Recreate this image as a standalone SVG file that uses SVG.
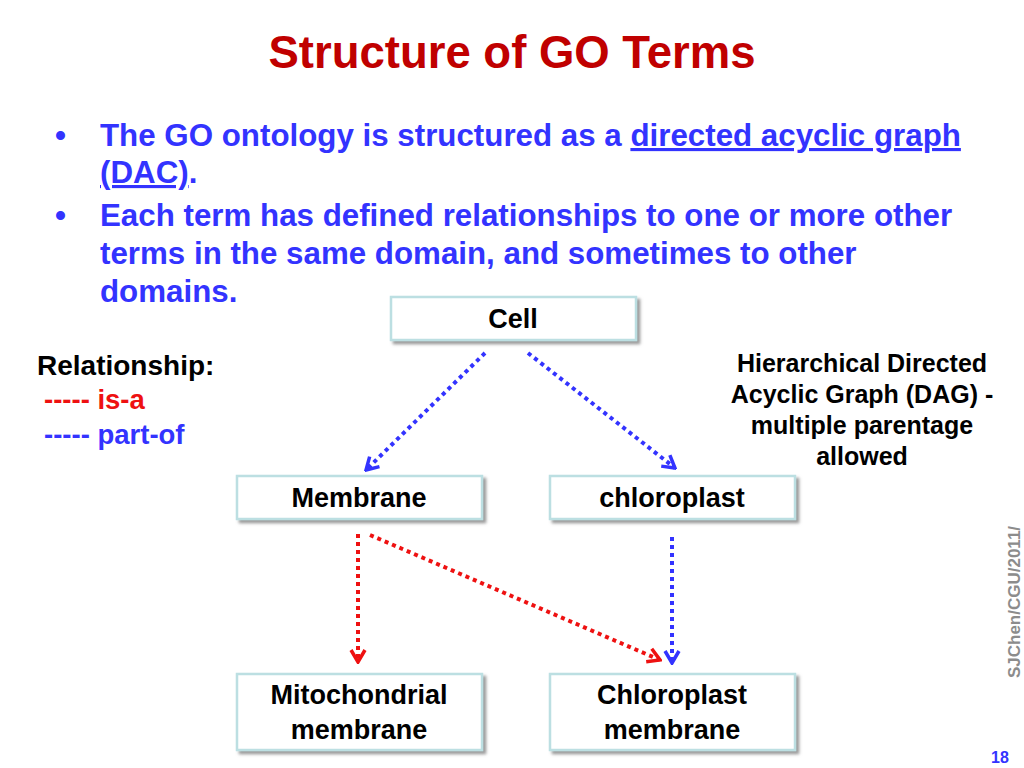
<svg xmlns="http://www.w3.org/2000/svg" width="1024" height="768" viewBox="0 0 1024 768">
<style>
text{font-family:"Liberation Sans",Arial,sans-serif;font-weight:bold}
.title{font-size:45.5px;fill:#c00000}
.bul{font-size:31.3px;fill:#3333ff}
.node{font-size:27px;fill:#000}
.note{font-size:25px;fill:#000}
.box{fill:#fff;stroke:#bcdfe2;stroke-width:2.5}
.blue{stroke:#3333ff;stroke-width:4;stroke-dasharray:4 4;fill:none}
.red{stroke:#ee1111;stroke-width:4;stroke-dasharray:4 4;fill:none}
</style>
<defs>
<filter id="sh" x="-10%" y="-20%" width="130%" height="160%">
<feDropShadow dx="3" dy="3" stdDeviation="1.5" flood-color="#808080" flood-opacity="0.8"/>
</filter>
<marker id="ab" viewBox="0 0 16 18" refX="14" refY="9" markerWidth="16" markerHeight="18" markerUnits="userSpaceOnUse" orient="auto">
<path d="M2,2 L14,9 L2,16" fill="none" stroke="#3333ff" stroke-width="3.5"/>
</marker>
<marker id="ar" viewBox="0 0 16 18" refX="14" refY="9" markerWidth="16" markerHeight="18" markerUnits="userSpaceOnUse" orient="auto">
<path d="M2,2 L14,9 L2,16" fill="none" stroke="#ee1111" stroke-width="3.5"/>
</marker>
</defs>
<rect width="1024" height="768" fill="#fff"/>
<text class="title" x="512" y="68" text-anchor="middle">Structure of GO Terms</text>
<g id="bullets">
<text class="bul" x="55" y="146">•</text>
<text class="bul" x="100" y="146">The GO ontology is structured as a <tspan text-decoration="underline">directed acyclic graph</tspan></text>
<text class="bul" x="100" y="183"><tspan text-decoration="underline">(DAC)</tspan>.</text>
<text class="bul" x="55" y="226">•</text>
<text class="bul" x="100" y="226">Each term has defined relationships to one or more other</text>
<text class="bul" x="100" y="264">terms in the same domain, and sometimes to other</text>
<text class="bul" x="100" y="302">domains.</text>
</g>
<g id="legend">
<text x="37" y="375" style="font-size:28px;fill:#000">Relationship:</text>
<text x="44" y="409" style="font-size:27.5px;fill:#ee1111">----- is-a</text>
<text x="44" y="444" style="font-size:27.5px;fill:#3333ff">----- part-of</text>
</g>
<g id="note">
<text class="note" x="862" y="372" text-anchor="middle">Hierarchical Directed</text>
<text class="note" x="862" y="403" text-anchor="middle">Acyclic Graph (DAG) -</text>
<text class="note" x="862" y="434" text-anchor="middle">multiple parentage</text>
<text class="note" x="862" y="465" text-anchor="middle">allowed</text>
</g>
<g id="connectors">
<line class="blue" x1="485" y1="353" x2="366" y2="470" marker-end="url(#ab)"/>
<line class="blue" x1="528" y1="353" x2="675" y2="468" marker-end="url(#ab)"/>
<line class="red" x1="358" y1="534" x2="358" y2="662" marker-end="url(#ar)"/>
<line class="red" x1="370" y1="535" x2="660" y2="660" marker-end="url(#ar)"/>
<line class="blue" x1="672" y1="537" x2="672" y2="663" marker-end="url(#ab)"/>
</g>
<g id="cell">
<rect class="box" x="391" y="297" width="245" height="43" filter="url(#sh)"/>
<text class="node" x="513" y="328" text-anchor="middle">Cell</text>
</g>
<g id="membrane">
<rect class="box" x="237" y="476" width="245" height="43" filter="url(#sh)"/>
<text class="node" x="359" y="507" text-anchor="middle">Membrane</text>
</g>
<g id="chloroplast">
<rect class="box" x="550" y="476" width="245" height="43" filter="url(#sh)"/>
<text class="node" x="672" y="507" text-anchor="middle">chloroplast</text>
</g>
<g id="mitochondrial-membrane">
<rect class="box" x="237" y="674" width="245" height="76" filter="url(#sh)"/>
<text class="node" x="359" y="704" text-anchor="middle">Mitochondrial</text>
<text class="node" x="359" y="739" text-anchor="middle">membrane</text>
</g>
<g id="chloroplast-membrane">
<rect class="box" x="550" y="674" width="245" height="76" filter="url(#sh)"/>
<text class="node" x="672" y="704" text-anchor="middle">Chloroplast</text>
<text class="node" x="672" y="739" text-anchor="middle">membrane</text>
</g>
<text x="1020" y="602" transform="rotate(-90 1020 602)" text-anchor="middle" style="font-size:17px;fill:#8c8c8c">SJChen/CGU/2011/</text>
<text x="1000" y="763" text-anchor="middle" style="font-size:16px;fill:#3333ff">18</text>
</svg>
